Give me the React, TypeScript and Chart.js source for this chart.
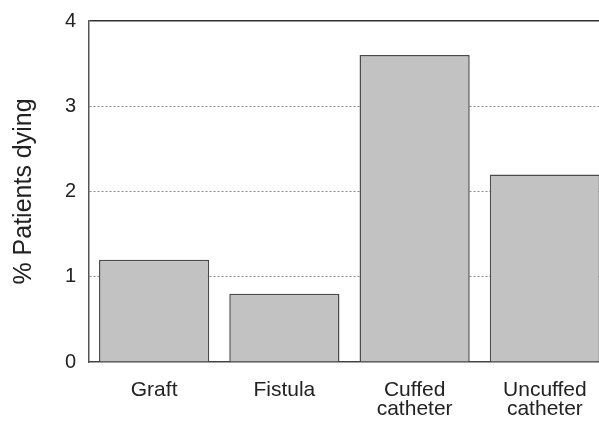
import React, { useEffect, useRef } from "react";
import { Chart, registerables } from "chart.js";

Chart.register(...registerables);

const categories: string[][] = [["Graft"], ["Fistula"], ["Cuffed", "catheter"], ["Uncuffed", "catheter"]];
const percentDying: number[] = [1.2, 0.8, 3.6, 2.2];
const yTicks: number[] = [0, 1, 2, 3, 4];
const yTitle = "% Patients dying";

export default function App() {
  const ref = useRef<HTMLCanvasElement | null>(null);
  useEffect(() => {
    if (!ref.current) return;
    const font = "'Liberation Sans', Arial, Helvetica, sans-serif";
    const chart = new Chart(ref.current, {
      type: "bar",
      data: {
        labels: categories,
        datasets: [
          {
            data: percentDying,
            backgroundColor: "#c2c2c2",
            borderColor: "#4a4a4a",
            borderWidth: 1.5,
            barPercentage: 0.846,
            categoryPercentage: 1,
          },
        ],
      },
      options: {
        responsive: false,
        animation: false,
        layout: { padding: { top: 21, right: 0, left: 0, bottom: 0 } },
        plugins: { legend: { display: false }, tooltip: { enabled: false } },
        scales: {
          x: {
            grid: { display: false, drawTicks: false },
            border: { display: true, color: "#444", width: 1.5 },
            ticks: {
              color: "#222",
              font: { family: font, size: 21, lineHeight: 0.9 },
              padding: 19,
              maxRotation: 0,
              autoSkip: false,
            },
            afterFit: (s: any) => {
              s.height = 59;
              s.paddingLeft = 0;
              s.paddingRight = 0;
            },
          },
          y: {
            min: 0,
            max: 4,
            afterBuildTicks: (s: any) => {
              s.ticks = yTicks.map((v) => ({ value: v }));
            },
            grid: {
              drawTicks: false,
              color: (ctx: any) => (ctx.tick && ctx.tick.value === 4 ? "#333" : ctx.tick && ctx.tick.value === 0 ? "rgba(0,0,0,0)" : "#8a8a8a"),
              lineWidth: (ctx: any) => (ctx.tick && ctx.tick.value === 4 ? 1.5 : 1),
            },
            border: {
              display: true,
              color: "#555",
              width: 1.5,
              dash: (ctx: any) => (ctx.tick && ctx.tick.value !== 4 ? [2, 2] : []),
            },
            ticks: {
              color: "#222",
              font: { family: font, size: 20 },
              padding: 13,
            },
            title: {
              display: true,
              text: yTitle,
              color: "#222",
              font: { family: font, size: 25 },
              padding: { top: 9, bottom: 0 },
            },
            afterFit: (s: any) => {
              s.width = 89;
              s.paddingTop = 0;
              s.paddingBottom = 0;
            },
          },
        },
      },
    });
    return () => chart.destroy();
  }, []);
  return (
    <div style={{ position: "fixed", left: 0, top: 0, width: 599, height: 421, overflow: "hidden", background: "#fff" }}>
      <canvas ref={ref} width={610} height={421} style={{ display: "block", width: 610, height: 421 }} />
    </div>
  );
}
